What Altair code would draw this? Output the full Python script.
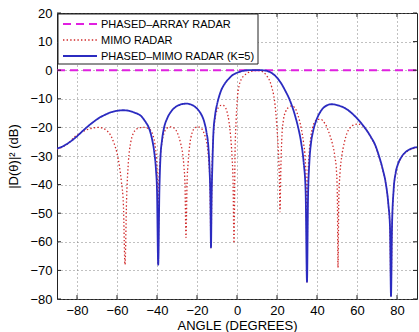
import altair as alt
import pandas as pd

# ---------------- data ----------------
x_ticks = [-80, -60, -40, -20, 0, 20, 40, 60, 80]
y_ticks = [-80, -70, -60, -50, -40, -30, -20, -10, 0, 10, 20]

labels = ["PHASED–ARRAY RADAR", "MIMO RADAR", "PHASED–MIMO RADAR (K=5)"]

phased_angle = [-90, 90]
phased_db = [0, 0]

mimo_angle = [-90, -87, -84, -81, -78, -75, -72, -69.5, -67, -65, -63, -61.5, -60, -58.8, -57.8, -56.8, -56,
              -55.2, -54.3, -53.2, -52, -50.5, -48.5, -46.5, -44.5, -43, -42, -41, -40.3, -39.8, -39.4,
              -39, -38.3, -37.5, -36.5, -35, -33.5, -32, -30.5, -29.2, -28.2, -27.2, -26.5, -26, -25.5,
              -25, -24.4, -23.6, -22.5, -21, -19.5, -18, -16.8, -15.8, -14.8, -14.1, -13.5, -13,
              -12.5, -11.8, -11, -10, -9, -8, -7, -6, -5, -4, -3.2, -2.5, -2, -1.5,
              -1, -0.4, 0.3, 1.2, 2.3, 3.5, 5, 7, 9, 11, 12.5, 14, 15.2, 16.4, 17.4, 18.3, 19, 19.6,
              20.2, 20.8, 21.2, 21.5, 21.9, 22.4, 23.2, 24.3, 25.8, 27.3, 28.8, 30, 31.2, 32.3, 33.3,
              34.1, 34.6, 35, 35.4, 36, 36.8, 37.8, 39, 40.5, 42, 43.5, 45, 46.5, 47.8, 48.9, 49.8,
              50.2, 50.5, 50.9, 51.5, 52.4, 53.6, 55, 56.5, 58.5, 60.5, 62.5, 64.5, 67, 69, 71, 73,
              74.5, 75.7, 76.5, 77, 77.5, 78.3, 79.3, 80.5, 82, 84, 86, 88, 90]
mimo_db = [-27.6, -26.8, -25.3, -23.2, -21.8, -20.8, -20.2, -20, -20.3, -21.2, -23, -25.5, -29, -33.5, -39, -47, -68,
           -45, -32, -25.5, -22.3, -20.8, -20.1, -20, -20.3, -21.2, -22.8, -26, -31, -38, -68,
           -38, -30, -25, -22, -20.3, -19.8, -20, -21, -23, -25.5, -29, -34, -40, -58.5,
           -40, -32, -26, -22, -20.2, -19.8, -20.2, -21.5, -23.5, -27, -32, -40, -62,
           -35, -23, -17, -14, -12.8, -12.3, -12.3, -12.8, -14.5, -18, -23, -30, -38, -60.5,
           -30, -17, -9, -5, -3, -1.9, -1.1, -0.4, -0.1, -0.1, -0.4, -1.2, -2.3, -3.8, -6, -8.6, -12, -16.5,
           -22.5, -30, -38, -49.5, -35, -24, -17.5, -14.5, -13, -12.5, -13, -14.8, -17.5, -21, -25.5,
           -31, -40, -74, -40, -30, -24, -20, -18, -17.2, -17.2, -18.2, -20, -22.9, -26, -30, -36,
           -45, -69, -45, -36, -30, -25.5, -22, -20.2, -19.1, -18.8, -19.3, -20.6, -23.6, -26.2, -30.2, -35.2,
           -40.2, -47.2, -56, -79, -56, -42.3, -36.3, -33, -30.8, -29, -28, -27.4, -27.1]

pm_angle = [-90, -87, -84, -81, -78, -75, -72, -69, -66, -63, -60, -57, -54, -51, -48, -46, -44, -42.5,
            -41.5, -40.5, -40, -39.4, -38.8, -38.3, -37.5, -36.5, -35, -33, -31, -29, -27, -25, -23, -21,
            -19.5, -18, -16.5, -15.3, -14.3, -13.7, -13.3, -13, -12.7, -12.3, -11.8, -11, -10, -9, -8,
            -6, -4, -2, 0, 2, 4, 6, 8, 10, 12, 14, 16, 18, 20, 22, 24, 26, 27.5, 29, 30.5, 32, 33.3,
            34.3, 35, 35.5, 36.2, 37, 38, 39.5, 41, 43, 45, 47, 49, 51, 53, 55, 57, 59, 61, 63, 65, 67,
            69, 71, 73, 74.5, 75.7, 76.5, 77, 77.5, 78.3, 79.3, 80.5, 82, 84, 86, 88, 90]
pm_db = [-27.4, -26.6, -25.3, -23.7, -21.8, -19.9, -18.2, -16.7, -15.6, -14.7, -14.2, -14, -14.2, -14.9, -16, -17.8, -20.3, -24,
         -28, -35, -42, -68, -42, -31, -24.5, -20.2, -17, -14.5, -13, -12.2, -11.8, -11.7, -12, -12.8,
         -13.8, -15.3, -17.8, -21.5, -27, -35, -45, -62, -45, -33, -22, -16, -12, -9.3, -7.2,
         -4.6, -2.9, -1.6, -0.9, -0.4, -0.1, 0, 0, 0, 0, -0.1, -0.5, -1.3, -2.6, -4.5, -7, -9.8, -12.5, -15.8, -19.8, -25, -32,
         -42, -74, -45, -32, -25.5, -21.5, -17.8, -15.4, -13.3, -12.3, -11.9, -12, -12.4, -12.9, -13.7, -14.8, -16.1, -17.6, -19.3, -21.2, -23.4,
         -26, -30, -35, -40, -47, -55, -79, -55, -42, -36, -32.8, -30.6, -28.8, -27.8, -27.2, -26.9]

colors = ["#e020e0", "#d02828", "#2b2bc0"]
dashes = [[8, 5], [1.4, 2.2], [1, 0]]
widths = [2.0, 1.3, 1.8]

W, H = 360, 286
FONT = "Liberation Sans"

xscale = alt.Scale(domain=[-90, 90], nice=False, zero=False)
yscale = alt.Scale(domain=[-80, 20], nice=False, zero=False)

x_axis = alt.Axis(values=x_ticks, title="ANGLE (DEGREES)", grid=True, ticks=False, tickSize=0,
                  domain=False, labelPadding=5, titleY=30, titleBaseline="alphabetic")
y_axis = alt.Axis(values=y_ticks, title="|D(θ)|² (dB)", grid=True, ticks=False, tickSize=0,
                  domain=False, labelPadding=5, titleX=-44, titleY=H / 2, titleBaseline="middle",
                  titleAlign="center", titleAngle=270)

X = alt.X("angle:Q", scale=xscale, axis=x_axis)
Y = alt.Y("db:Q", scale=yscale, axis=y_axis)


def line_layer(angles, dbs, idx, interp):
    df = pd.DataFrame({"angle": angles, "db": dbs})
    return alt.Chart(df).mark_line(
        clip=True, interpolate=interp, strokeWidth=widths[idx], color=colors[idx],
        strokeDash=dashes[idx]).encode(x=X, y=Y)


xt = pd.DataFrame({"angle": x_ticks})
yt = pd.DataFrame({"db": y_ticks})

tick_bottom = alt.Chart(xt).mark_rule(color="#222").encode(x=X, y=alt.value(H), y2=alt.value(H - 4))
tick_top = alt.Chart(xt).mark_rule(color="#222").encode(x=X, y=alt.value(0), y2=alt.value(4))
tick_left = alt.Chart(yt).mark_rule(color="#222").encode(y=Y, x=alt.value(0), x2=alt.value(4))
tick_right = alt.Chart(yt).mark_rule(color="#222").encode(y=Y, x=alt.value(W), x2=alt.value(W - 4))

# ---- legend (drawn as a box with line samples and real text) ----
leg_box = alt.Chart().mark_rect(fill="white", stroke="#222", strokeWidth=1).encode(
    x=alt.value(1), x2=alt.value(201), y=alt.value(1), y2=alt.value(51))
leg_rows = [11, 27, 43]
leg_layers = [leg_box]
for i, lab in enumerate(labels):
    leg_layers.append(alt.Chart().mark_rule(color=colors[i], strokeWidth=widths[i], strokeDash=dashes[i]).encode(
        x=alt.value(6), x2=alt.value(40), y=alt.value(leg_rows[i])))
    leg_layers.append(alt.Chart().mark_text(align="left", baseline="middle", font=FONT, fontSize=11,
                                            color="black").encode(
        x=alt.value(44), y=alt.value(leg_rows[i] + 0.5), text=alt.value(lab)))

chart = alt.layer(
    line_layer(phased_angle, phased_db, 0, "linear"),
    line_layer(mimo_angle, mimo_db, 1, "monotone"),
    line_layer(pm_angle, pm_db, 2, "monotone"),
    tick_bottom, tick_top, tick_left, tick_right,
    *leg_layers,
).properties(
    width=W, height=H,
    autosize=alt.AutoSizeParams(type="none"),
    padding={"left": 57, "top": 13, "right": 2, "bottom": 33},
    background="white",
).configure_view(
    stroke="#222", strokeWidth=1
).configure_axis(
    labelFont=FONT, labelFontSize=13, labelColor="black",
    titleFont=FONT, titleFontSize=13, titleFontWeight="normal", titleColor="black",
    gridColor="#777", gridDash=[1, 3], gridWidth=1, gridOpacity=0.9,
)

chart.save("out.html", embed_options={"renderer": "svg", "actions": False})
